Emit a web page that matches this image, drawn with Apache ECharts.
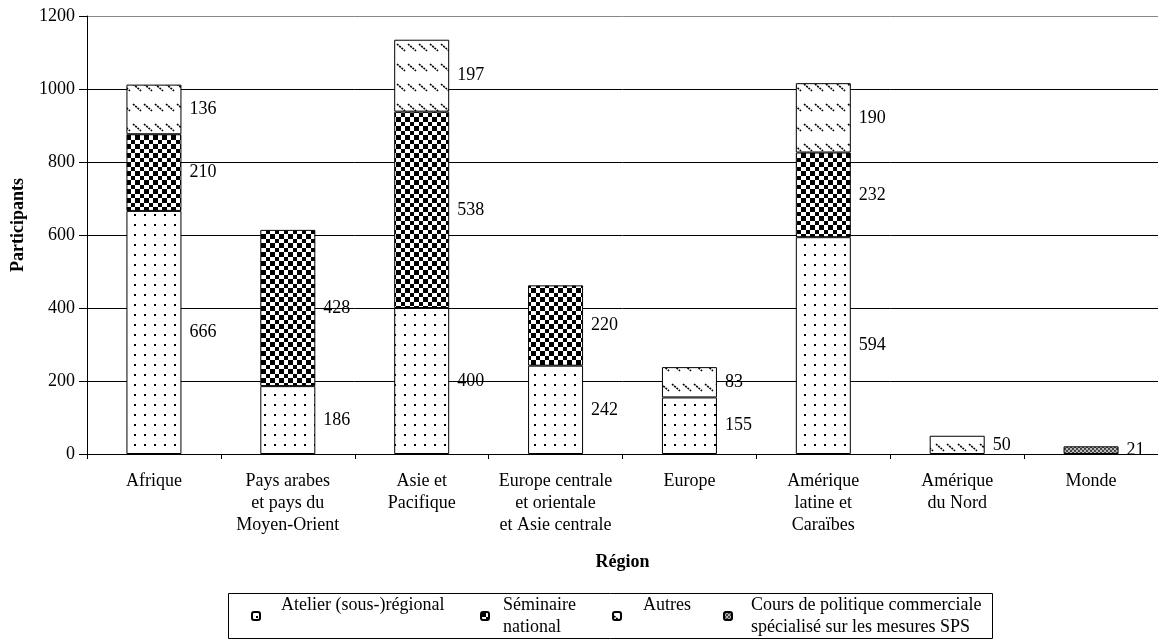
<!DOCTYPE html>
<html>
<head>
<meta charset="utf-8">
<script src="https://cdn.jsdelivr.net/npm/echarts@6/dist/echarts.min.js"></script>
<style>
html,body{margin:0;padding:0;background:#fff;}
#chart{width:1158px;height:641px;}
</style>
</head>
<body>
<div id="chart"></div>
<script>
// ---- data ----
const categories = [
  'Afrique',
  'Pays arabes\net pays du\nMoyen-Orient',
  'Asie et\nPacifique',
  'Europe centrale\net orientale\net Asie centrale',
  'Europe',
  'Amérique\nlatine et\nCaraïbes',
  'Amérique\ndu Nord',
  'Monde'
];
const seriesNames = [
  'Atelier (sous-)régional',
  'Séminaire national',
  'Autres',
  'Cours de politique commerciale spécialisé sur les mesures SPS'
];
const legendLabels = [
  'Atelier (sous-)régional\n ',
  'Séminaire\nnational',
  'Autres\n ',
  'Cours de politique commerciale\nspécialisé sur les mesures SPS'
];
const atelier   = [666, 186, 400, 242, 155, 594, null, null];
const seminaire = [210, 428, 538, 220, null, 232, null, null];
const autres    = [136, null, 197, null, 83, 190, 50, null];
const cours     = [null, null, null, null, null, null, null, 21];
const yTicks = [0, 200, 400, 600, 800, 1000, 1200];

// ---- patterns ----
function mk(w, h, draw) {
  const c = document.createElement('canvas');
  c.width = w; c.height = h;
  const ctx = c.getContext('2d');
  ctx.fillStyle = '#fff';
  ctx.fillRect(0, 0, w, h);
  draw(ctx);
  return c;
}
const patDots = mk(10, 10, ctx => {
  ctx.fillStyle = '#000';
  ctx.fillRect(4, 4, 2, 2);
});
const patChecker = mk(9, 9, ctx => {
  ctx.fillStyle = '#000';
  ctx.fillRect(0, 0, 5, 5);
  ctx.fillRect(5, 5, 4, 4);
});
const patDiag = mk(11, 20, ctx => {
  ctx.strokeStyle = '#000';
  ctx.lineWidth = 1.6;
  ctx.setLineDash([2, 1]);
  ctx.beginPath();
  ctx.moveTo(1, 4);
  ctx.lineTo(9, 11);
  ctx.stroke();
});
const patFine = mk(4, 4, ctx => {
  ctx.fillStyle = '#bbb';
  ctx.fillRect(0, 0, 4, 4);
  ctx.fillStyle = '#444';
  ctx.fillRect(0, 0, 2, 2);
  ctx.fillRect(2, 2, 2, 2);
});
const patterns = [patDots, patChecker, patDiag, patFine];
const dataSets = [atelier, seminaire, autres, cours];

const FONT = 'Liberation Serif';
const FS = 18;

// legend item placement (icon left x, text padding)
const legendLeft = [251, 480, 612, 723];
const legendPad = [16, 9, 17, 14];

const chart = echarts.init(document.getElementById('chart'), null, {renderer: 'canvas'});
const option = {
  animation: false,
  backgroundColor: '#fff',
  grid: {left: 87, right: -4, top: 16, bottom: 187, containLabel: false},
  xAxis: {
    type: 'category',
    data: categories,
    name: 'Région',
    nameLocation: 'middle',
    nameGap: 99,
    nameTextStyle: {fontFamily: FONT, fontSize: FS, fontWeight: 'bold', color: '#000'},
    axisLine: {lineStyle: {color: '#000', width: 1}},
    axisTick: {show: true, length: 5, lineStyle: {color: '#000'}},
    axisLabel: {fontFamily: FONT, fontSize: FS, color: '#000', margin: 16, lineHeight: 22, interval: 0}
  },
  yAxis: {
    type: 'value',
    min: 0, max: 1200, interval: 200,
    name: 'Participants',
    nameLocation: 'middle',
    nameGap: 60,
    nameRotate: 90,
    nameTextStyle: {fontFamily: FONT, fontSize: FS, fontWeight: 'bold', color: '#000', padding: [0, 0, 0, 20]},
    axisLine: {show: true, lineStyle: {color: '#000', width: 1}},
    axisTick: {show: true, length: 8, lineStyle: {color: '#000'}},
    axisLabel: {fontFamily: FONT, fontSize: FS, color: '#000', margin: 12,
      formatter: v => yTicks.indexOf(v) >= 0 ? String(v) : ''},
    splitLine: {show: true, lineStyle: {color: ['#000','#000','#000','#000','#000','#000','#888'], width: 1}}
  },
  legend: seriesNames.map((n, i) => ({
    left: legendLeft[i], top: 594,
    orient: 'horizontal',
    itemWidth: 8, itemHeight: 8,
    padding: 0,
    data: [n],
    formatter: () => legendLabels[i],
    textStyle: {fontFamily: FONT, fontSize: FS, color: '#000', lineHeight: 22, padding: [0, 0, 0, legendPad[i]]},
    selectedMode: false
  })),
  graphic: [{
    type: 'rect',
    shape: {x: 228.5, y: 593.5, width: 764, height: 45},
    style: {fill: 'none', stroke: '#000', lineWidth: 1},
    silent: true, z: -1
  }],
  series: seriesNames.map((n, i) => ({
    name: n,
    type: 'bar',
    stack: 'total',
    barWidth: 55,
    data: dataSets[i],
    itemStyle: {color: {image: patterns[i], repeat: 'repeat'}, borderColor: '#000', borderWidth: 1},
    label: {
      show: true, position: 'right', distance: 8,
      fontFamily: FONT, fontSize: FS, color: '#000',
      formatter: p => (p.value == null ? '' : String(p.value))
    }
  }))
};
chart.setOption(option);
</script>
</body>
</html>
